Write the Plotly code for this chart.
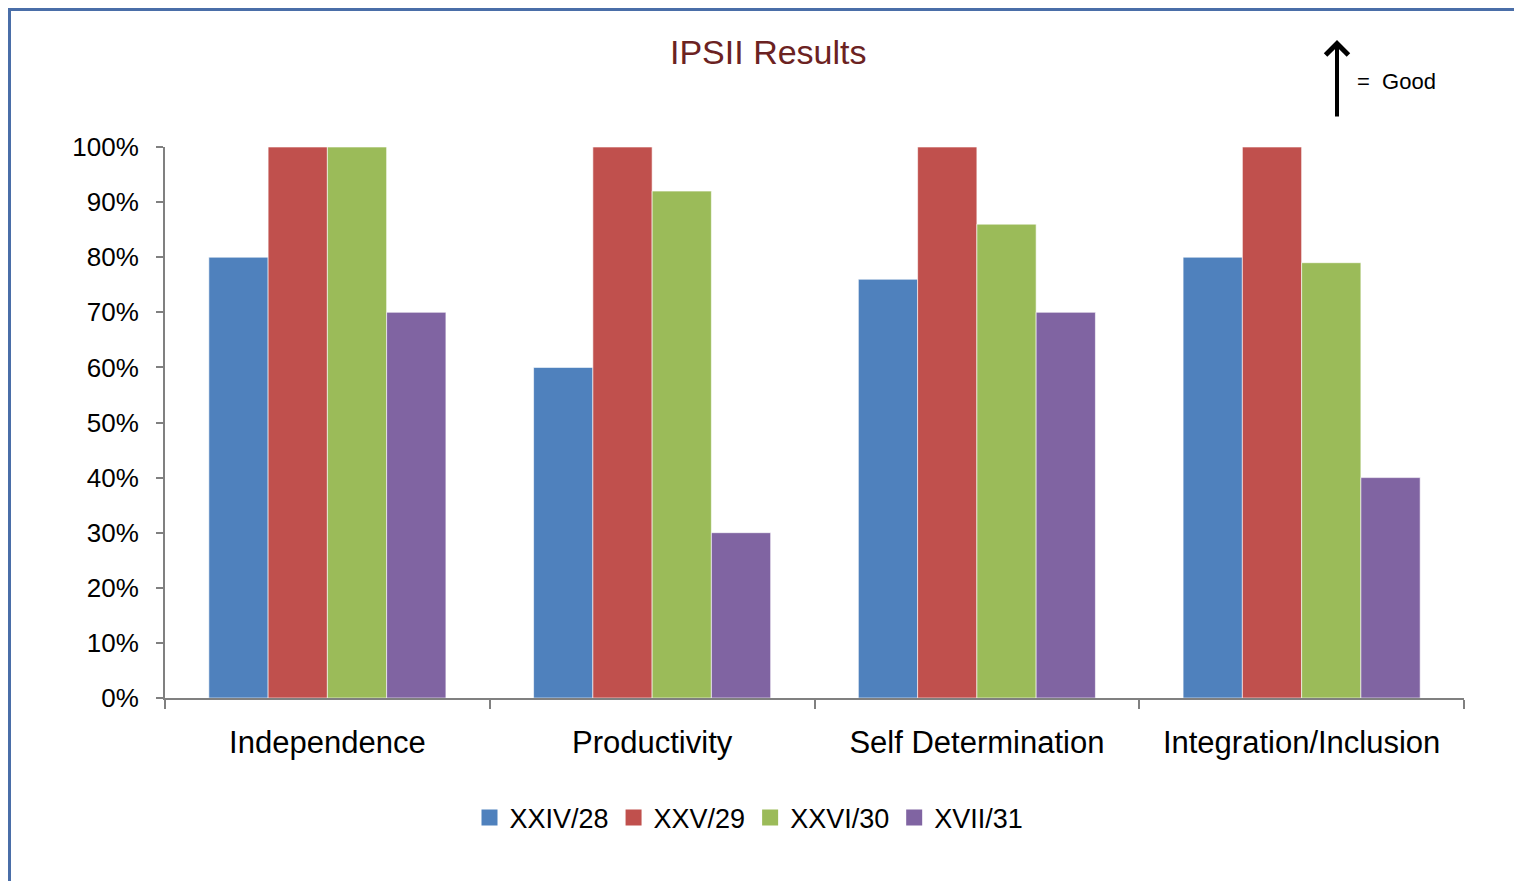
import plotly.graph_objects as go

categories = ["Independence", "Productivity", "Self Determination", "Integration/Inclusion"]
series_names = ["XXIV/28", "XXV/29", "XXVI/30", "XVII/31"]
xxiv_28 = [0.80, 0.60, 0.76, 0.80]
xxv_29 = [1.00, 1.00, 1.00, 1.00]
xxvi_30 = [1.00, 0.92, 0.86, 0.79]
xvii_31 = [0.70, 0.30, 0.70, 0.40]
y_ticks = [0, 0.1, 0.2, 0.3, 0.4, 0.5, 0.6, 0.7, 0.8, 0.9, 1.0]

series_values = [xxiv_28, xxv_29, xxvi_30, xvii_31]
colors = ["#4f81bd", "#c0504d", "#9bbb59", "#8064a2"]

FONT = "Liberation Sans, Arial, sans-serif"

fig = go.Figure()
for name, vals, col in zip(series_names, series_values, colors):
    fig.add_trace(go.Bar(
        x=categories, y=vals, name=name, legendgroup=name, showlegend=False,
        marker=dict(color=col, line=dict(color="rgba(255,255,255,0.6)", width=1)),
    ))
# legend entries with larger square swatches
for name, col in zip(series_names, colors):
    fig.add_trace(go.Scatter(
        x=[None], y=[None], mode="markers", name=name, legendgroup=name,
        marker=dict(symbol="square", size=16, color=col), showlegend=True,
    ))

OFF = 8  # page body margin
W, H = 1522 - OFF, 881 - OFF
L, R, T, B = 165 - OFF, 1464 - OFF, 147 - OFF, 698 - OFF
pw, ph = R - L, B - T

def px(x):
    return (x - OFF - L) / pw

def py(y):
    return (B - (y - OFF)) / ph

fig.update_layout(
    width=W, height=H,
    margin=dict(l=L, r=W - R, t=T, b=H - B, autoexpand=False),
    paper_bgcolor="white", plot_bgcolor="white",
    barmode="group", bargap=0.27, bargroupgap=0,
    font=dict(family=FONT, color="black"),
    showlegend=True,
    legend=dict(orientation="h", x=px(749), xanchor="center", y=py(818), yanchor="middle",
                font=dict(size=27, family=FONT), itemwidth=30, traceorder="normal",
                tracegroupgap=0),
    xaxis=dict(
        type="category", showline=True, linecolor="#808080", linewidth=2,
        ticks="outside", tickson="boundaries", ticklen=9, tickwidth=2, tickcolor="#808080",
        tickfont=dict(size=31, family=FONT), showgrid=False, ticklabelstandoff=16,
    ),
    yaxis=dict(
        range=[0, 1.0], tickvals=y_ticks, tickformat=".0%",
        showline=True, linecolor="#808080", linewidth=2,
        ticks="outside", ticklen=7, tickwidth=2, tickcolor="#808080",
        tickfont=dict(size=26, family=FONT), showgrid=False, zeroline=False,
        ticklabelstandoff=12,
    ),
    shapes=[dict(type="rect", xref="paper", yref="paper",
                 x0=px(9.5), x1=px(1540), y0=py(900), y1=py(9.5),
                 line=dict(color="#4a6ea8", width=3), fillcolor="rgba(0,0,0,0)", layer="below")],
    annotations=[
        dict(text="IPSII Results", xref="paper", yref="paper", x=px(768), y=py(52),
             xanchor="center", yanchor="middle", showarrow=False,
             font=dict(size=34, color="#6b2222", family=FONT)),
        dict(text="", xref="paper", yref="paper", x=px(1337), y=py(40),
             ax=0, ay=78, showarrow=True, arrowhead=4, arrowsize=1.1, arrowwidth=4,
             arrowcolor="black"),
        dict(text="=  Good", xref="paper", yref="paper", x=px(1355), y=py(82),
             xanchor="left", yanchor="middle", showarrow=False,
             font=dict(size=22, color="black", family=FONT)),
    ],
)

fig.write_html("out.html")
